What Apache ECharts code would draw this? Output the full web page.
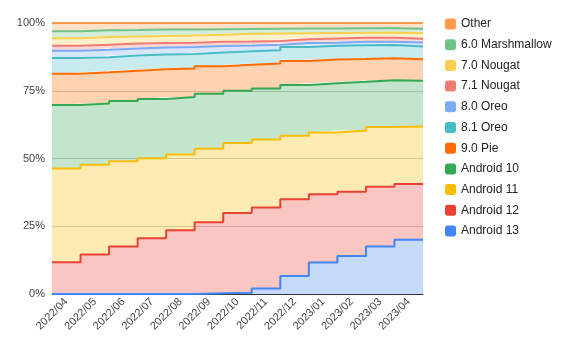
<!DOCTYPE html>
<html>
<head>
<meta charset="utf-8">
<script src="https://cdn.jsdelivr.net/npm/echarts@6/dist/echarts.min.js"></script>
<style>
  html, body { margin: 0; padding: 0; background: #fff; }
  #chart { width: 567px; height: 351px; }
</style>
</head>
<body>
<div id="chart"></div>
<script>
const months = ['2022/04', '2022/05', '2022/06', '2022/07', '2022/08', '2022/09', '2022/10',
  '2022/11', '2022/12', '2023/01', '2023/02', '2023/03', '2023/04'];

// share of devices per month, %
const android13 = [0, 0, 0, 0, 0, 0.3, 0.5, 2.0, 6.6, 11.6, 14.0, 17.5, 20.0];
const android12 = [11.7, 14.6, 17.5, 20.6, 23.5, 26.2, 29.4, 29.9, 28.4, 25.2, 23.7, 22.1, 20.6];
const android11 = [34.6, 33.1, 31.5, 29.5, 28.0, 27.1, 25.8, 25.1, 23.4, 22.8, 22.6, 22.0, 21.2];
const android10 = [23.4, 22.6, 22.2, 21.9, 21.2, 20.3, 19.3, 18.8, 18.7, 18.2, 18.0, 17.3, 16.9];
const pie90 = [11.6, 11.5, 11.2, 10.9, 10.5, 10.1, 9.6, 9.3, 8.9, 8.7, 8.4, 8.1, 7.9];
const oreo81 = [5.8, 5.6, 5.6, 5.5, 5.4, 5.1, 5.0, 4.8, 5.1, 5.1, 5.1, 4.9, 4.7];
const oreo80 = [2.7, 2.7, 2.6, 2.6, 2.5, 2.4, 2.1, 2.1, 1.5, 1.1, 1.3, 1.2, 1.5];
const nougat71 = [1.8, 1.9, 1.8, 1.6, 1.6, 1.6, 1.5, 1.4, 1.4, 1.6, 1.5, 1.5, 1.4];
const nougat70 = [2.8, 2.8, 2.6, 2.6, 2.7, 2.6, 2.8, 2.7, 2.2, 2.0, 1.8, 1.9, 2.0];
const marshmallow60 = [2.6, 2.5, 2.4, 2.4, 2.2, 2.0, 1.8, 1.8, 1.8, 1.7, 1.7, 1.6, 1.7];
const other = [3.0, 2.7, 2.6, 2.4, 2.4, 2.3, 2.2, 2.1, 2.0, 2.0, 1.9, 1.9, 2.1];

// bottom of the stack first
const seriesList = [
  { name: 'Android 13', data: android13, color: '#4285F4' },
  { name: 'Android 12', data: android12, color: '#EA4335' },
  { name: 'Android 11', data: android11, color: '#FBBC04' },
  { name: 'Android 10', data: android10, color: '#34A853' },
  { name: '9.0 Pie', data: pie90, color: '#FF6D01' },
  { name: '8.1 Oreo', data: oreo81, color: '#46BDC6' },
  { name: '8.0 Oreo', data: oreo80, color: '#7BAAF7' },
  { name: '7.1 Nougat', data: nougat71, color: '#F07B72' },
  { name: '7.0 Nougat', data: nougat70, color: '#FCD04F' },
  { name: '6.0 Marshmallow', data: marshmallow60, color: '#71C287' },
  { name: 'Other', data: other, color: '#FF994D' }
];

const chart = echarts.init(document.getElementById('chart'));

// band edges: one more slot than months, so each month fills its whole band
const edges = months.concat(['end']);
const toSteps = (values) => values.concat([values[values.length - 1]]);

const option = {
  backgroundColor: '#fff',
  animation: false,
  textStyle: { fontFamily: 'Arial' },
  grid: { left: 52, right: 144, top: 23, bottom: 57 },
  legend: {
    orient: 'vertical',
    left: 440,
    top: 13,
    itemWidth: 11,
    itemHeight: 11,
    itemGap: 8.7,
    icon: 'roundRect',
    data: seriesList.map(s => s.name).reverse(),
    textStyle: { color: '#222', fontSize: 12, fontFamily: 'Arial' }
  },
  xAxis: [
    {
      type: 'category',
      data: edges,
      boundaryGap: false,
      show: false
    },
    {
      type: 'category',
      data: months,
      boundaryGap: true,
      position: 'bottom',
      axisLine: { show: true, lineStyle: { color: '#333' } },
      axisTick: { show: false },
      axisLabel: { rotate: 45, color: '#444', fontSize: 11, margin: 6, interval: 0 }
    }
  ],
  yAxis: {
    type: 'value',
    min: 0,
    max: 100,
    interval: 25,
    axisLine: { show: false },
    axisTick: { show: false },
    axisLabel: { color: '#444', fontSize: 11, margin: 7, formatter: '{value}%' },
    splitLine: { lineStyle: { color: '#ccc' } }
  },
  series: seriesList.map(s => ({
    name: s.name,
    type: 'line',
    xAxisIndex: 0,
    stack: 'total',
    step: 'end',
    symbol: 'none',
    data: toSteps(s.data),
    itemStyle: { color: s.color },
    lineStyle: { color: s.color, width: 2 },
    areaStyle: { color: s.color, opacity: 0.3 }
  }))
};

chart.setOption(option);
</script>
</body>
</html>
